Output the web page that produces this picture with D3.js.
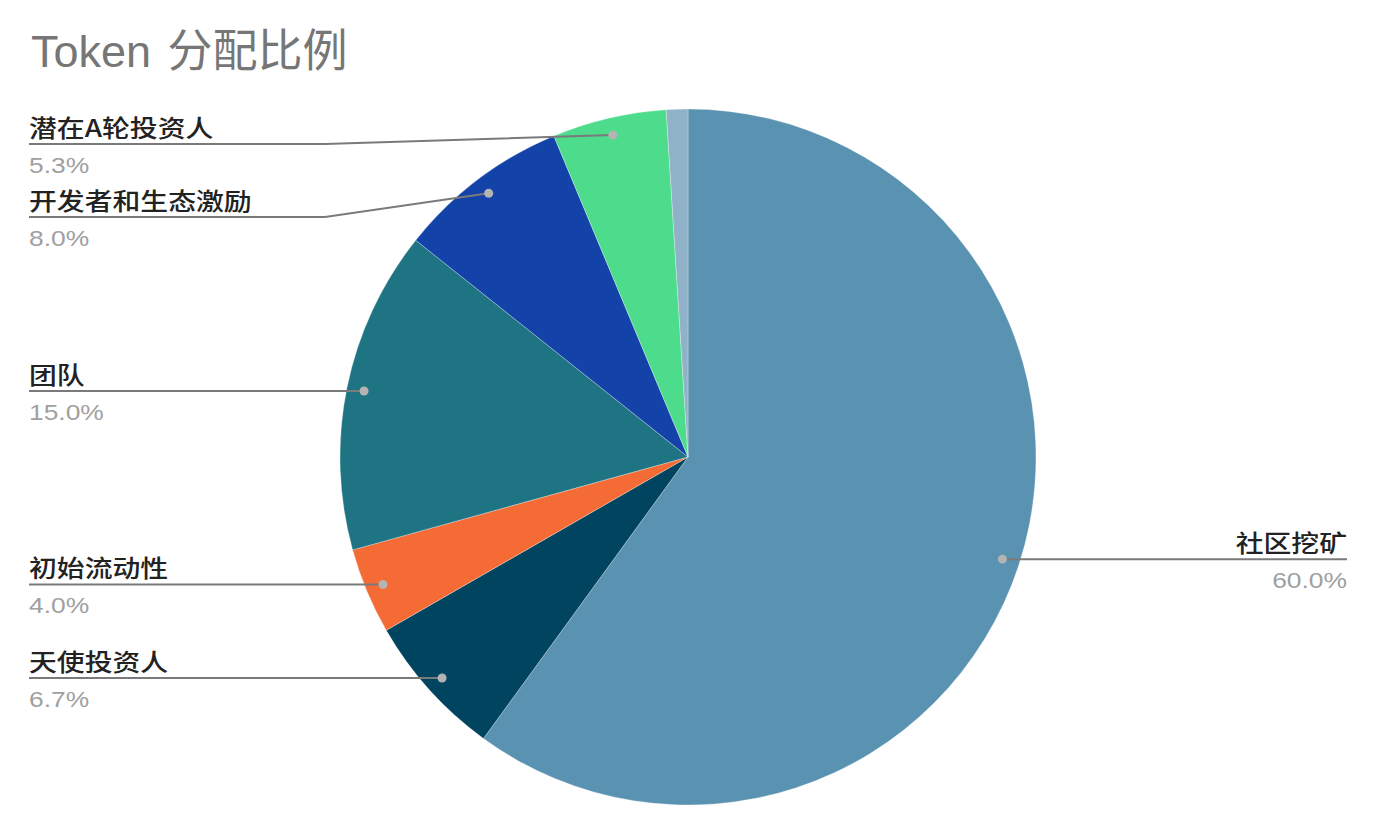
<!DOCTYPE html>
<html><head><meta charset="utf-8">
<script src="https://cdn.jsdelivr.net/npm/d3@7"></script>
<style>
html,body{margin:0;padding:0;background:#fff;}
svg{display:block;}
</style></head>
<body>
<svg id="chart" width="1391" height="836"></svg>
<script>
const title = "Token 分配比例";
const categories = ["社区挖矿","天使投资人","初始流动性","团队","开发者和生态激励","潜在A轮投资人","其他"];
const values = [60.0, 6.7, 4.0, 15.0, 8.0, 5.3, 1.0];
const colors = ["#5a92b1","#00445f","#f46b35","#1f7483","#1342a8","#4ddc8b","#8fb2c8"];

const W = 1391, H = 836;
const cx = 688, cy = 457, R = 348;
const svg = d3.select("#chart");

svg.append("text").attr("x", 31).attr("y", 67)
  .attr("font-family", "'Liberation Sans','Noto Sans CJK SC',sans-serif")
  .attr("font-size", 45).attr("word-spacing", 4).attr("fill", "#767676").text(title);

const data = categories.map((c,i)=>({name:c, value:values[i], color:colors[i]}));
const pie = d3.pie().value(d=>d.value).sort(null);
const arcs = pie(data);
const arc = d3.arc().innerRadius(0).outerRadius(R);
const dotArc = d3.arc().innerRadius(R*0.95).outerRadius(R*0.95);

const g = svg.append("g").attr("transform", `translate(${cx},${cy})`);
g.selectAll("path").data(arcs).join("path")
  .attr("d", arc).attr("fill", d=>d.data.color)
  .attr("stroke", "#fff").attr("stroke-width", 0.3);

// labels
const labeled = arcs.filter(a=>a.data.value >= 2);
const items = labeled.map(a=>{
  const [x,y] = dotArc.centroid(a);
  const mid = (a.startAngle + a.endAngle)/2;
  return {a, dx: cx + x, dy: cy + y, side: Math.sin(mid) >= 0 ? "right" : "left"};
});
const minGap = 73, topLimit = 144;
["left","right"].forEach(side=>{
  const arr = items.filter(d=>d.side===side).sort((p,q)=>p.dy-q.dy);
  let prev = -Infinity;
  arr.forEach((d,i)=>{
    let y = Math.max(d.dy, i===0 ? topLimit : prev + minGap);
    d.ly = y; prev = y;
  });
});

const lab = svg.append("g");
const leftX = 29, rightX = 1347, elbowL = 325;
items.forEach(d=>{
  let pts;
  if (d.side === "left") {
    pts = Math.abs(d.ly - d.dy) < 1 ? [[leftX,d.ly],[d.dx,d.dy]] : [[leftX,d.ly],[elbowL,d.ly],[d.dx,d.dy]];
  } else {
    pts = Math.abs(d.ly - d.dy) < 1 ? [[d.dx,d.dy],[rightX,d.ly]] : [[d.dx,d.dy],[d.dx+40,d.ly],[rightX,d.ly]];
  }
  lab.append("path").attr("d", d3.line()(pts)).attr("fill","none")
    .attr("stroke","#7a7a7a").attr("stroke-width",2);
  lab.append("circle").attr("cx", d.dx).attr("cy", d.dy).attr("r", 4.5)
    .attr("fill","#b4b4b4");
  const tx = d.side === "left" ? leftX : rightX;
  const anchor = d.side === "left" ? "start" : "end";
  lab.append("text").attr("transform", `translate(${tx},${d.ly - 7}) scale(1.16,1)`)
    .attr("text-anchor", anchor)
    .attr("font-family","'Noto Sans CJK SC',sans-serif").attr("font-weight", 500)
    .attr("font-size", 24).attr("fill","#222").text(d.a.data.name);
  lab.append("text").attr("transform", `translate(${tx},${d.ly + 29}) scale(1.2,1)`)
    .attr("text-anchor", anchor)
    .attr("font-family","'Liberation Sans',Arial,sans-serif")
    .attr("font-size", 22).attr("fill","#a0a0a0").text(d.a.data.value.toFixed(1) + "%");
});
</script>
</body></html>
